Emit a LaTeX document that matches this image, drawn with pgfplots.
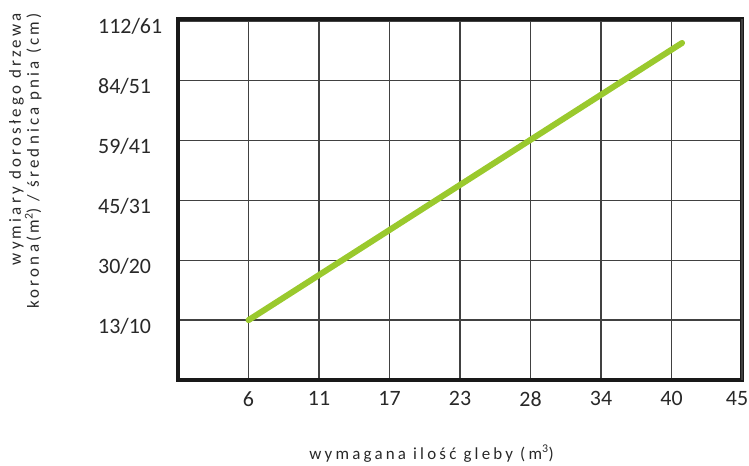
\documentclass[border=0pt]{standalone}
\usepackage{fontspec}
\setmainfont{Carlito}
\usepackage{pgfplots}
\pgfplotsset{compat=1.18}
\definecolor{lgreen}{RGB}{154,201,45}
\definecolor{gridc}{RGB}{65,65,65}
\definecolor{txt}{RGB}{40,40,40}
\begin{document}
\begin{tikzpicture}
\path[use as bounding box] (-178bp,-86bp) rectangle (571bp,380bp);
\begin{axis}[
 at={(0bp,0bp)}, anchor=south west,
 scale only axis, width=564bp, height=361bp,
 xmin=0, xmax=8, ymin=0, ymax=6.03,
 xtick={1,...,7}, xticklabels={6,11,17,23,28,34,40},
 extra x ticks={8}, extra x tick labels={45},
 extra x tick style={xticklabel style={xshift=-5bp}},
 ytick={1,...,6}, yticklabels={13/10,30/20,45/31,59/41,84/51,112/61},
 grid=major, major grid style={gridc, line width=1.5bp},
 axis line style={line width=4.5bp, black!90},
 major tick length=0pt, tick style={draw=none},
 /pgf/number format/assume math mode=true,
 ticklabel style={font=\fontsize{22}{26}\selectfont, text=txt},
 xticklabel style={anchor=north, yshift=-8bp},
 yticklabel style={anchor=west, xshift=-80bp, yshift=-6bp, inner sep=0pt},
 clip=false,
]
\addplot[lgreen, line width=6bp, line cap=round] coordinates {(1,1) (7.15,5.63)};
\end{axis}
\node[anchor=base, inner sep=0pt, text=txt, font=\fontsize{17}{18}\selectfont\addfontfeature{LetterSpace=19}] at (253.5bp,-79bp) {wymagana ilość gleby (m\textsuperscript{3})};
\node[anchor=north east, rotate=90, align=right, inner sep=0pt, text=txt, font=\fontsize{17}{18}\selectfont\addfontfeature{LetterSpace=19}] at (-169bp,367bp) {wymiary dorosłego drzewa\\korona(m\textsuperscript{2}) / średnica pnia (cm)};
\end{tikzpicture}
\end{document}
